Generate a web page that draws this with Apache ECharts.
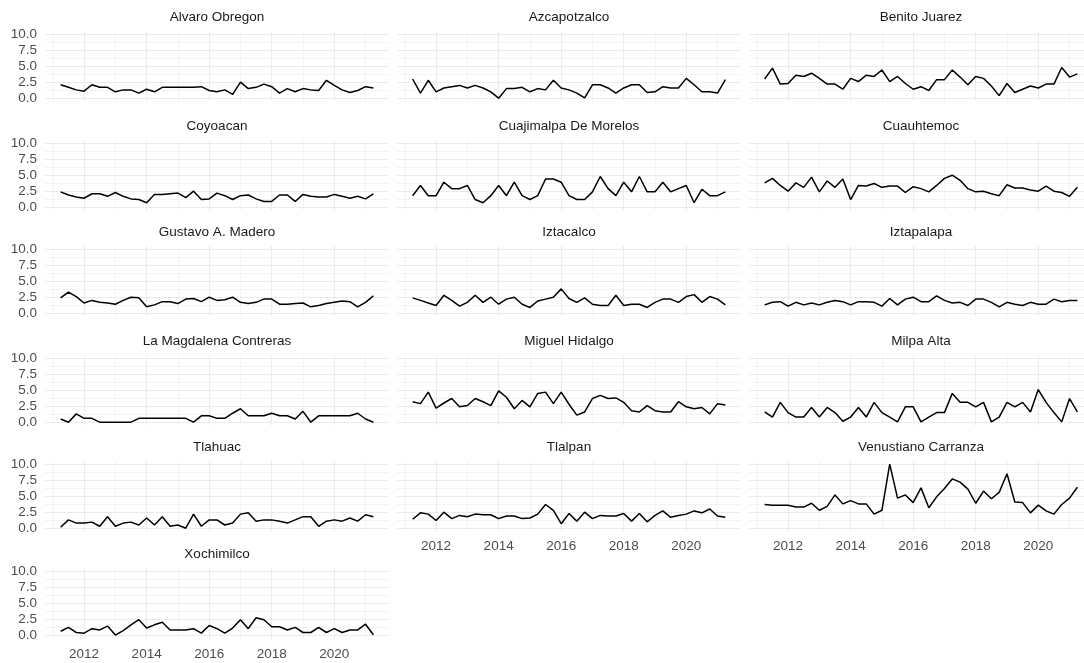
<!DOCTYPE html>
<html>
<head>
<meta charset="utf-8">
<script src="https://cdn.jsdelivr.net/npm/echarts@6.0.0/dist/echarts.min.js"></script>
<style>
html, body { margin: 0; padding: 0; background: #fff; }
#main { width: 1084px; height: 663px; }
</style>
</head>
<body>
<div id="main"></div>
<script>
// quarter start dates as decimal years
var quarters = [2011.25, 2011.5, 2011.75, 2012, 2012.25, 2012.5, 2012.75, 2013, 2013.25, 2013.5,
  2013.75, 2014, 2014.25, 2014.5, 2014.75, 2015, 2015.25, 2015.5, 2015.75, 2016,
  2016.25, 2016.5, 2016.75, 2017, 2017.25, 2017.5, 2017.75, 2018, 2018.25, 2018.5,
  2018.75, 2019, 2019.25, 2019.5, 2019.75, 2020, 2020.25, 2020.5, 2020.75, 2021,
  2021.25];

var xTicks = [2012, 2014, 2016, 2018, 2020];
var xMinorTicks = [2011, 2013, 2015, 2017, 2019, 2021];
var yTicks = [0, 2.5, 5, 7.5, 10];
var yMinorTicks = [1.25, 3.75, 6.25, 8.75];

var districts = ['Alvaro Obregon', 'Azcapotzalco', 'Benito Juarez',
  'Coyoacan', 'Cuajimalpa De Morelos', 'Cuauhtemoc',
  'Gustavo A. Madero', 'Iztacalco', 'Iztapalapa',
  'La Magdalena Contreras', 'Miguel Hidalgo', 'Milpa Alta',
  'Tlahuac', 'Tlalpan', 'Venustiano Carranza',
  'Xochimilco'];

var alvaro = [2.1,1.7,1.3,1.1,2.1,1.7,1.7,1.0,1.3,1.3, 0.8,1.4,1.0,1.7,1.7,1.7,1.7,1.7,1.8,1.2, 1.0,1.3,0.6,2.5,1.5,1.7,2.2,1.8,0.8,1.5, 1.0,1.5,1.3,1.2,2.8,2.0,1.3,0.9,1.2,1.8, 1.6];
var azcapotzalco = [3.0,0.8,2.8,1.0,1.6,1.8,2.0,1.6,2.0,1.6, 1.0,0.0,1.5,1.5,1.7,1.0,1.5,1.3,2.8,1.6, 1.3,0.8,0.05,2.1,2.1,1.6,0.8,1.6,2.1,2.1, 0.9,1.0,1.8,1.6,1.6,3.1,2.1,1.0,1.0,0.8, 2.9];
var benito = [3.0,4.7,2.2,2.3,3.6,3.4,3.9,3.1,2.2,2.2, 1.4,3.1,2.6,3.6,3.4,4.4,2.6,3.4,2.3,1.4, 1.8,1.2,2.9,2.9,4.4,3.3,2.1,3.4,3.1,1.9, 0.4,2.3,0.9,1.4,1.9,1.6,2.2,2.2,4.8,3.3, 3.8];
var coyoacan = [2.4,1.9,1.6,1.4,2.1,2.1,1.7,2.3,1.7,1.3, 1.2,0.7,2.0,2.0,2.1,2.2,1.5,2.5,1.2,1.3, 2.2,1.8,1.2,1.8,1.9,1.3,0.9,0.9,1.9,1.9, 0.9,2.0,1.7,1.6,1.6,2.0,1.7,1.4,1.7,1.3, 2.1];
var cuajimalpa = [1.8,3.4,1.8,1.8,3.9,2.9,2.9,3.4,1.2,0.7, 1.8,3.4,1.8,3.9,1.8,1.2,1.8,4.4,4.4,3.9, 1.8,1.2,1.2,2.4,4.8,2.9,1.8,3.9,2.4,4.8, 2.4,2.4,3.9,2.4,2.9,3.4,0.7,2.8,1.8,1.8, 2.4];
var cuauhtemoc = [3.8,4.5,3.4,2.5,3.8,3.1,4.7,2.4,4.1,3.1, 4.4,1.2,3.4,3.3,3.7,3.1,3.3,3.3,2.3,3.2, 2.9,2.4,3.4,4.5,5.0,4.2,2.9,2.4,2.5,2.1, 1.8,3.5,3.0,3.0,2.7,2.5,3.3,2.5,2.3,1.7, 3.1];
var gustavo = [2.4,3.3,2.6,1.6,2.0,1.7,1.6,1.4,2.0,2.5, 2.4,1.0,1.3,1.8,1.8,1.5,2.2,2.3,1.8,2.5, 2.0,2.1,2.5,1.7,1.5,1.7,2.2,2.2,1.4,1.4, 1.5,1.6,1.0,1.2,1.5,1.7,1.9,1.8,1.0,1.7, 2.7];
var iztacalco = [2.4,2.0,1.6,1.2,2.8,2.0,1.1,1.7,2.8,1.7, 2.5,1.4,2.2,2.5,1.4,0.9,1.9,2.2,2.5,3.8, 2.3,1.7,2.4,1.4,1.2,1.2,2.8,1.2,1.4,1.4, 0.9,1.7,2.2,2.2,1.7,2.6,2.9,1.7,2.6,2.2, 1.3];
var iztapalapa = [1.3,1.7,1.8,1.1,1.7,1.3,1.6,1.3,1.7,2.0, 1.8,1.3,1.8,1.8,1.7,1.1,2.3,1.3,2.2,2.5, 1.8,1.8,2.7,2.0,1.6,1.7,1.2,2.2,2.2,1.7, 1.0,1.7,1.4,1.2,1.7,1.4,1.4,2.2,1.8,2.0, 2.0];
var magdalena = [0.5,0,1.3,0.6,0.6,0,0,0,0,0, 0.6,0.6,0.6,0.6,0.6,0.6,0.6,0,1.0,1.0, 0.6,0.6,1.4,2.1,1.0,1.0,1.0,1.4,1.0,1.0, 0.5,1.7,0,1.0,1.0,1.0,1.0,1.0,1.4,0.5, 0];
var miguel = [3.2,2.9,4.7,2.2,3.0,3.7,2.4,2.6,3.7,3.2, 2.6,4.9,3.9,2.1,3.4,2.4,4.5,4.7,2.9,4.7, 2.8,1.1,1.6,3.7,4.2,3.7,3.8,3.1,1.8,1.6, 2.6,1.8,1.6,1.6,3.2,2.4,2.1,2.3,1.3,2.9, 2.7];
var milpa = [1.6,0.8,3.1,1.5,0.8,0.8,2.3,0.8,2.3,1.5, 0.15,0.8,2.3,0.8,3.1,1.5,0.8,0.05,2.4,2.4, 0.05,0.8,1.5,1.5,4.5,3.1,3.1,2.4,3.1,0.05, 0.8,3.1,2.4,3.1,1.6,5.1,3.1,1.5,0.05,3.7, 1.6];
var tlahuac = [0.15,1.3,0.8,0.8,0.95,0.3,1.8,0.3,0.8,0.95, 0.5,1.6,0.5,1.8,0.3,0.5,0,2.2,0.3,1.3, 1.3,0.5,0.8,2.2,2.4,1.1,1.3,1.3,1.1,0.8, 1.3,1.8,1.8,0.3,1.1,1.3,1.1,1.6,1.1,2.1, 1.8];
var tlalpan = [1.4,2.4,2.2,1.2,2.5,1.5,2.0,1.8,2.2,2.1, 2.1,1.5,1.9,1.9,1.5,1.6,2.2,3.7,2.8,0.7, 2.3,1.1,2.5,1.5,2.0,1.9,1.9,2.3,1.1,2.3, 1.0,2.0,2.7,1.7,2.0,2.2,2.7,2.4,3.0,1.9, 1.7];
var venustiano = [3.7,3.6,3.6,3.6,3.3,3.3,3.9,2.8,3.4,5.2, 3.8,4.3,3.8,3.8,2.2,2.8,10.0,4.7,5.2,4.0, 6.3,3.2,4.9,6.2,7.7,7.2,6.1,3.9,5.8,4.6, 5.6,8.5,4.1,4.0,2.4,3.6,2.7,2.2,3.7,4.7, 6.4];
var xochimilco = [0.7,1.3,0.5,0.4,1.1,0.9,1.5,0.1,0.8,1.7, 2.5,1.2,1.7,2.1,0.9,0.9,0.9,1.1,0.4,1.6, 1.1,0.4,1.2,2.5,1.1,2.8,2.5,1.4,1.4,0.9, 1.3,0.5,0.5,1.3,0.5,1.1,0.5,0.9,0.9,1.8, 0.15];

var values = [alvaro, azcapotzalco, benito, coyoacan, cuajimalpa, cuauhtemoc,
  gustavo, iztacalco, iztapalapa, magdalena, miguel, milpa,
  tlahuac, tlalpan, venustiano, xochimilco];

var chart = echarts.init(document.getElementById('main'));

// panel layout (facet grid, 3 columns)
var colLeft = [45, 397, 749];
var rowTop = [31, 140, 246, 355, 461, 568.5];
var panelW = 344;
var panelH = 70.4;

var gridColor = '#EBEBEB';
var labelColor = '#4D4D4D';
var fontFam = '"Liberation Sans", Arial, sans-serif';

var grids = [], xAxes = [], yAxes = [], series = [], texts = [];

districts.forEach(function (name, i) {
  var col = i % 3;
  var row = Math.floor(i / 3);
  var showY = col === 0;
  var showX = i + 3 >= districts.length;

  grids.push({
    left: colLeft[col], top: rowTop[row], width: panelW, height: panelH,
    containLabel: false, outerBoundsMode: 'none'
  });

  // major x
  xAxes.push({
    gridIndex: i, type: 'value', min: 2010.75, max: 2021.75,
    axisLine: { show: false },
    axisTick: { show: false, customValues: xTicks },
    axisLabel: {
      show: showX, customValues: xTicks, margin: 8,
      color: labelColor, fontSize: 13.5, fontFamily: fontFam,
      formatter: function (v) { return String(v); }
    },
    splitLine: { show: true, lineStyle: { color: gridColor, width: 1.1 } }
  });
  // minor x
  xAxes.push({
    gridIndex: i, type: 'value', min: 2010.75, max: 2021.75,
    axisLine: { show: false },
    axisTick: { show: false, customValues: xMinorTicks },
    axisLabel: { show: false, customValues: xMinorTicks },
    splitLine: { show: true, lineStyle: { color: gridColor, width: 0.6 } }
  });
  // major y
  yAxes.push({
    gridIndex: i, type: 'value', min: -0.5, max: 10.5,
    axisLine: { show: false },
    axisTick: { show: false, customValues: yTicks },
    axisLabel: {
      show: showY, customValues: yTicks, margin: 8,
      color: labelColor, fontSize: 13.5, fontFamily: fontFam,
      formatter: function (v) { return v.toFixed(1); }
    },
    splitLine: { show: true, lineStyle: { color: gridColor, width: 1.1 } }
  });
  // minor y
  yAxes.push({
    gridIndex: i, type: 'value', min: -0.5, max: 10.5,
    axisLine: { show: false },
    axisTick: { show: false, customValues: yMinorTicks },
    axisLabel: { show: false, customValues: yMinorTicks },
    splitLine: { show: true, lineStyle: { color: gridColor, width: 0.6 } }
  });

  series.push({
    type: 'line',
    xAxisIndex: 2 * i,
    yAxisIndex: 2 * i,
    data: quarters.map(function (q, k) { return [q, values[i][k]]; }),
    symbol: 'none',
    lineStyle: { color: '#000000', width: 1.5 },
    z: 5
  });

  // strip title
  texts.push({
    type: 'text',
    x: colLeft[col] + panelW / 2,
    y: rowTop[row] - 14,
    style: {
      text: name,
      textAlign: 'center',
      textVerticalAlign: 'middle',
      fill: '#1A1A1A',
      font: '13.5px ' + fontFam
    }
  });
});

var option = {
  backgroundColor: '#ffffff',
  animation: false,
  textStyle: { fontFamily: fontFam },
  grid: grids,
  xAxis: xAxes,
  yAxis: yAxes,
  series: series,
  graphic: texts
};

chart.setOption(option);
</script>
</body>
</html>
